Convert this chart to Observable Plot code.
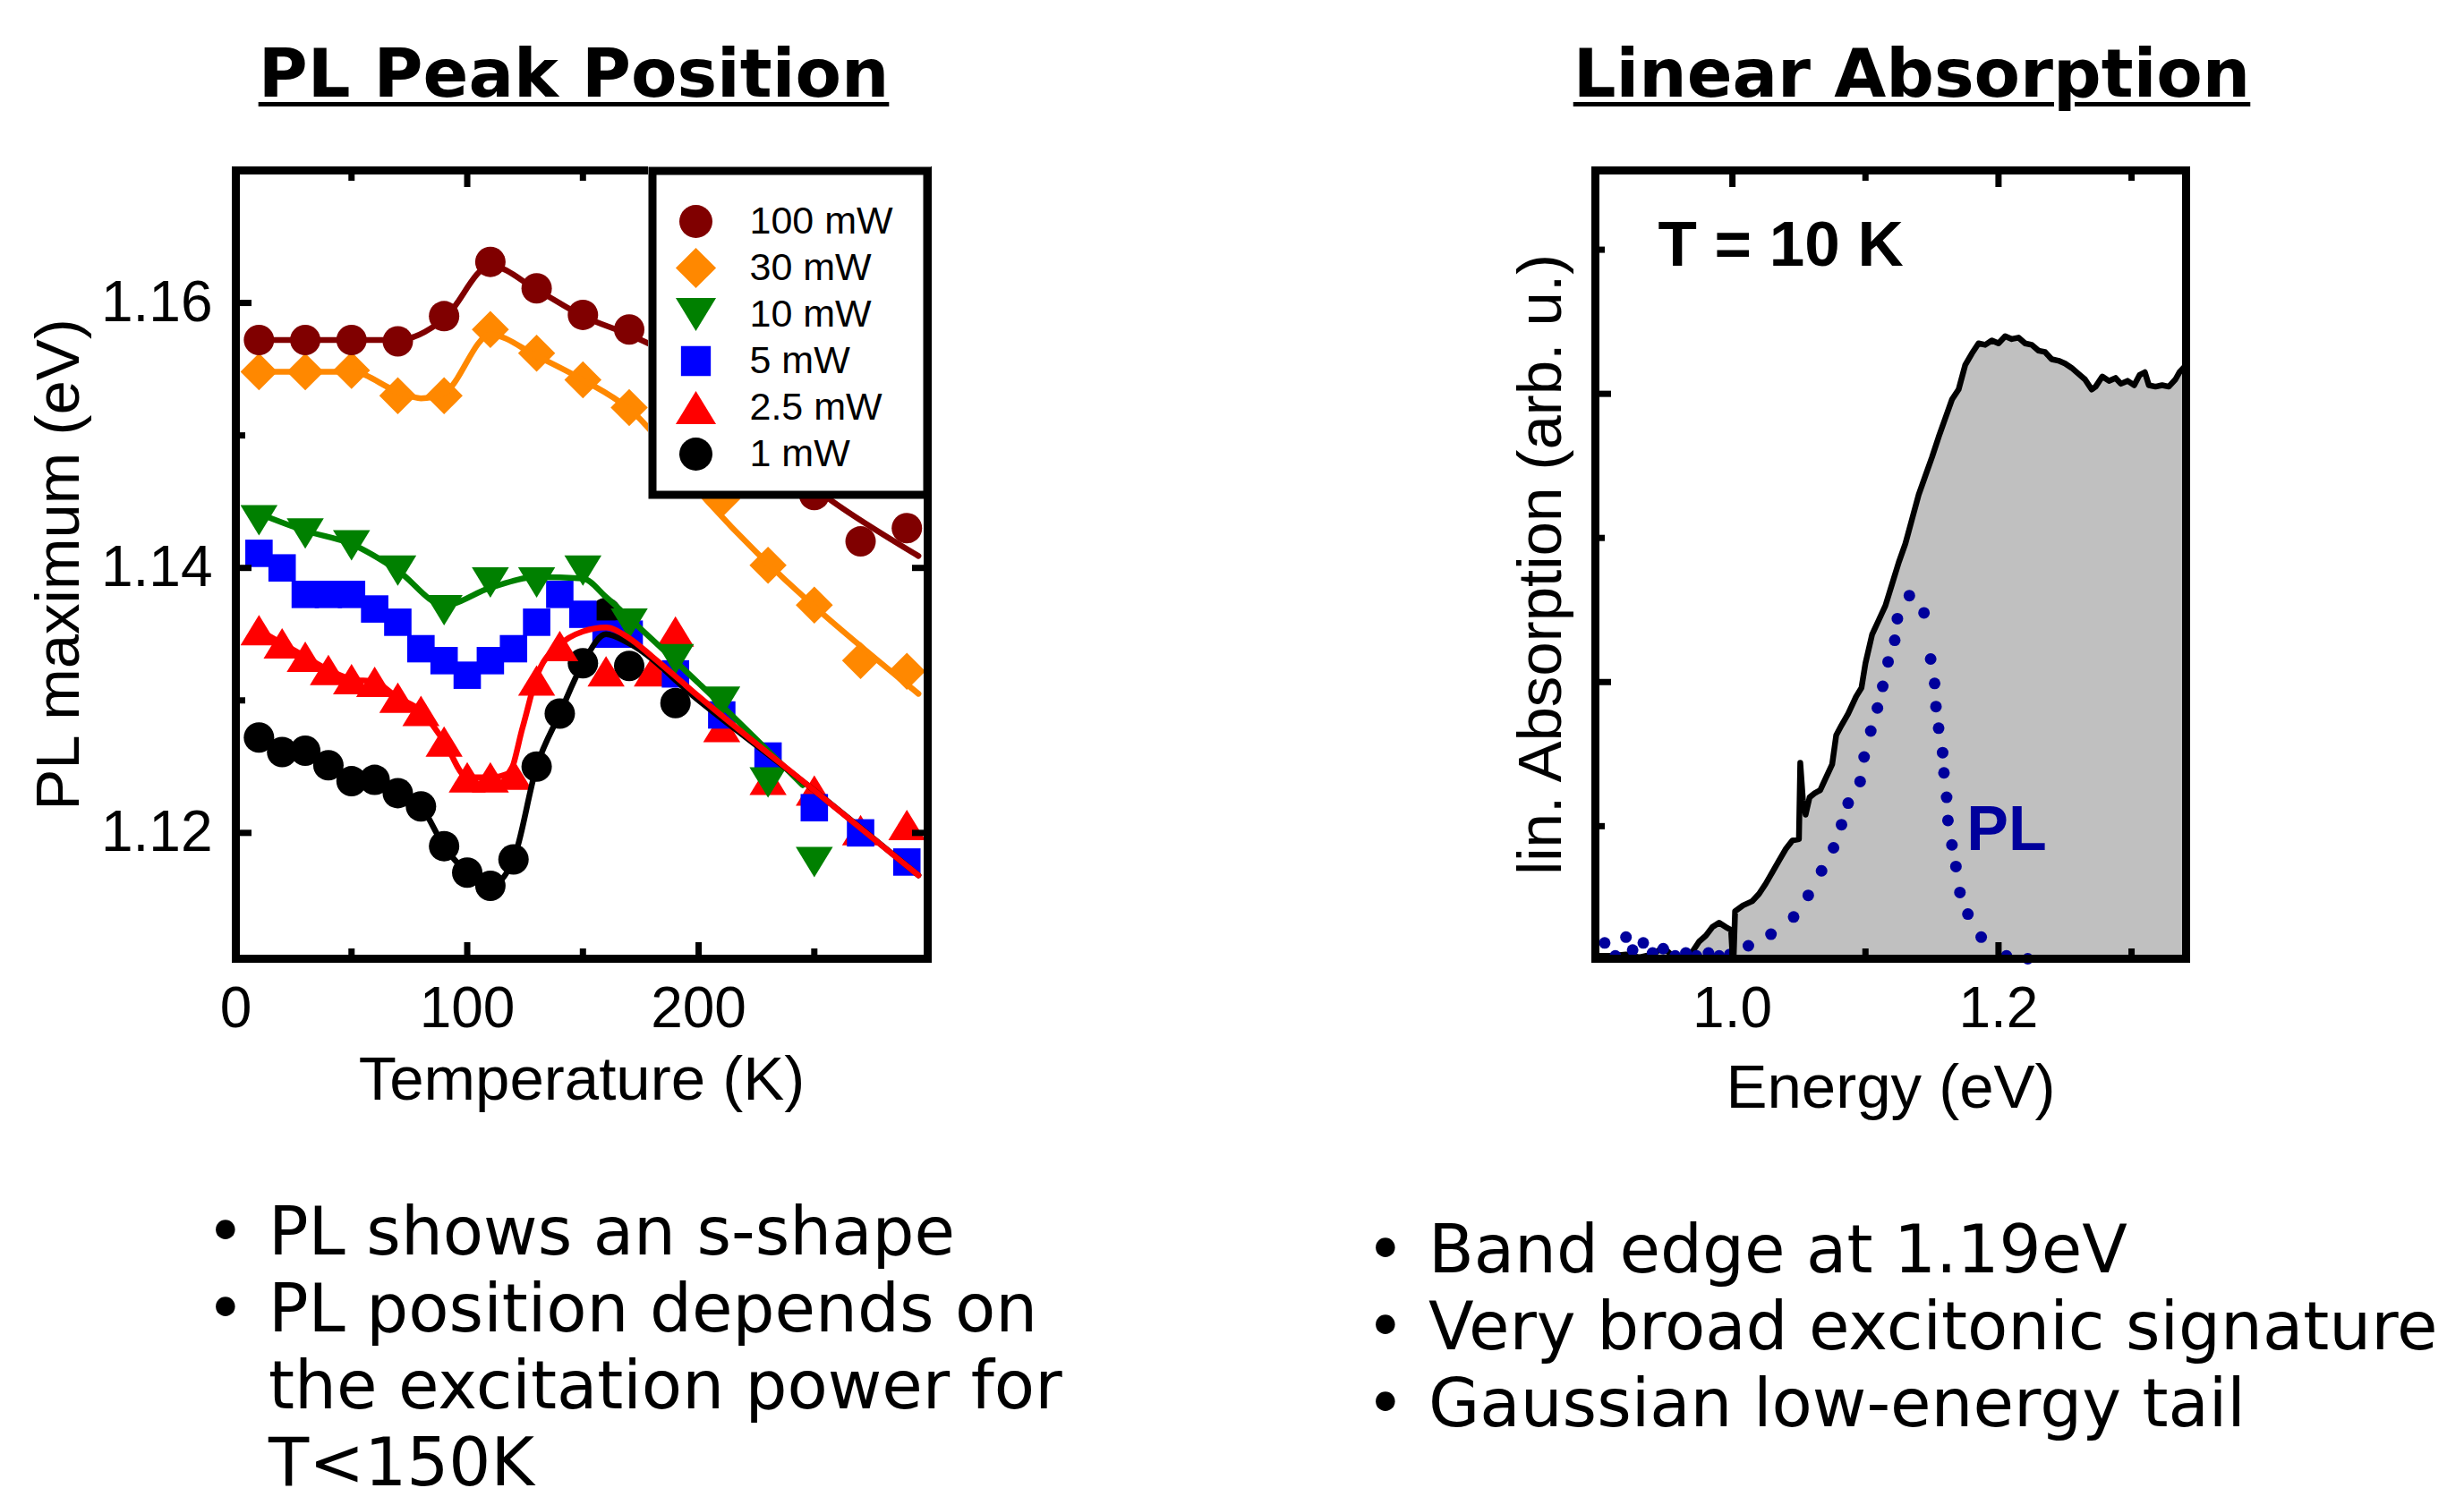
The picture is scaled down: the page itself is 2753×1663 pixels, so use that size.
<!DOCTYPE html>
<html>
<head>
<meta charset="utf-8">
<script src="https://cdn.jsdelivr.net/npm/d3@7"></script>
<script src="https://cdn.jsdelivr.net/npm/@observablehq/plot@0.6"></script>
<style>
  html, body { margin: 0; padding: 0; background: #fff; }
  body { width: 2753px; height: 1663px; overflow: hidden; position: relative; font-family: "DejaVu Sans", sans-serif; color: #000; }
  .abs { position: absolute; }
  .title { font-family: "DejaVu Sans", sans-serif; font-weight: bold; font-size: 75px; line-height: 75px; text-align: center; width: 1000px;
           text-decoration: underline; text-decoration-thickness: 5px; text-underline-offset: 6px; white-space: nowrap; }
  .item { font-size: 74px; line-height: 86px; white-space: nowrap; }
  .bullet { position: absolute; left: 0; top: 0; }
</style>
</head>
<body>
<script>
// ---------------- PL peak position data (Temperature K, PL maximum eV) ----------------
const T_100mW = [10, 30, 50, 70, 90, 110, 130, 150, 170, 190, 210, 230, 250, 270, 290];
const E_100mW = [1.1572, 1.1572, 1.1572, 1.1571, 1.1590, 1.1631, 1.1611, 1.1591, 1.1580, 1.1555, 1.1520, 1.1490, 1.1455, 1.1420, 1.1430];

const T_30mW = [10, 30, 50, 70, 90, 110, 130, 150, 170, 190, 210, 230, 250, 270, 290];
const E_30mW = [1.1548, 1.1548, 1.1549, 1.1530, 1.1530, 1.1580, 1.1562, 1.1542, 1.1521, 1.1485, 1.1452, 1.1402, 1.1372, 1.1330, 1.1322];

const T_10mW = [10, 30, 50, 70, 90, 110, 130, 150, 170, 190, 210, 230, 250];
const E_10mW = [1.1436, 1.1426, 1.1417, 1.1398, 1.1368, 1.1389, 1.1389, 1.1398, 1.1358, 1.1331, 1.1299, 1.1238, 1.1178];

const T_5mW = [10, 20, 30, 40, 50, 60, 70, 80, 90, 100, 110, 120, 130, 140, 150, 160, 170, 190, 210, 230, 250, 270, 290];
const E_5mW = [1.1411, 1.1400, 1.1380, 1.1380, 1.1380, 1.1369, 1.1359, 1.1339, 1.1330, 1.1319, 1.1330, 1.1339, 1.1359, 1.1380, 1.1365, 1.1350, 1.1350, 1.1320, 1.1289, 1.1258, 1.1219, 1.1200, 1.1178];

const T_2p5mW = [10, 20, 30, 40, 50, 60, 70, 80, 90, 100, 110, 120, 130, 140, 160, 180, 190, 210, 230, 250, 270, 290];
const E_2p5mW = [1.1353, 1.1343, 1.1333, 1.1323, 1.1316, 1.1314, 1.1302, 1.1292, 1.1269, 1.1242, 1.1242, 1.1244, 1.1315, 1.1341, 1.1322, 1.1322, 1.1352, 1.1280, 1.1240, 1.1232, 1.1202, 1.1206];

const T_1mW = [10, 20, 30, 40, 50, 60, 70, 80, 90, 100, 110, 120, 130, 140, 150, 160, 170, 190];
const E_1mW = [1.1272, 1.1261, 1.1262, 1.1251, 1.1239, 1.1240, 1.1230, 1.1220, 1.1190, 1.1170, 1.1160, 1.1180, 1.1250, 1.1290, 1.1328, 1.1366, 1.1326, 1.1298];

// guide / fit curves drawn through the data
const fitT_100mW = [10, 70, 90, 110, 130, 150, 170, 180, 258, 295];
const fitE_100mW = [1.1572, 1.1572, 1.1588, 1.1628, 1.1610, 1.1590, 1.1576, 1.1568, 1.1450, 1.1409];
const fitT_30mW = [10, 50, 70, 80, 90, 110, 130, 150, 170, 204, 295];
const fitE_30mW = [1.1548, 1.1548, 1.1533, 1.1528, 1.1532, 1.1576, 1.1560, 1.1542, 1.1520, 1.1450, 1.1305];
const fitT_10mW = [10, 30, 50, 70, 90, 110, 130, 150, 160, 170, 200, 245];
const fitE_10mW = [1.1441, 1.1428, 1.1418, 1.1398, 1.1372, 1.1385, 1.1393, 1.1392, 1.1378, 1.1362, 1.1313, 1.1236];
const fitT_1mW = [10, 20, 30, 40, 50, 60, 70, 80, 90, 100, 110, 120, 130, 140, 150, 160, 170, 200, 250, 295];
const fitE_1mW = [1.1272, 1.1261, 1.1262, 1.1251, 1.1239, 1.1240, 1.1230, 1.1220, 1.1190, 1.1170, 1.1160, 1.1180, 1.1250, 1.1290, 1.1328, 1.1350, 1.1343, 1.1300, 1.1232, 1.1168];
const fitT_2p5mW = [10, 20, 30, 40, 50, 60, 70, 80, 90, 100, 110, 118, 124, 130, 140, 150, 160, 170, 180, 200, 250, 295];
const fitE_2p5mW = [1.1353, 1.1343, 1.1333, 1.1323, 1.1316, 1.1314, 1.1302, 1.1292, 1.1269, 1.1242, 1.1242, 1.1245, 1.1280, 1.1318, 1.1342, 1.1352, 1.1355, 1.1347, 1.1333, 1.1303, 1.1232, 1.1168];

const legendLabels = ["100 mW", "30 mW", "10 mW", "5 mW", "2.5 mW", "1 mW"];
const seriesColors = ["#800000", "#ff8800", "#008000", "#0000ff", "#ff0000", "#000000"];

const tempTicksMajor = [100, 200];
const tempTicksMinor = [50, 150, 250];
const tempTickLabels = [0, 100, 200];
const plTicksMajor = [1.12, 1.14, 1.16];
const plTicksMinor = [1.13, 1.15];

// ---------------- Linear absorption data (Energy eV, arb. u.) ----------------
const absE = [0.898, 0.910, 0.920, 0.930, 0.940, 0.948, 0.955, 0.965, 0.970, 0.975, 0.980, 0.985, 0.990, 0.995, 0.999, 1.000, 1.001, 1.002,
  1.008, 1.015, 1.020, 1.025, 1.030, 1.035, 1.040, 1.045, 1.050, 1.051, 1.053, 1.055, 1.058, 1.062, 1.066, 1.070, 1.075, 1.078, 1.082,
  1.087, 1.093, 1.097, 1.100, 1.105, 1.110, 1.115, 1.120, 1.125, 1.130, 1.135, 1.140, 1.145, 1.150, 1.155, 1.160, 1.165, 1.170, 1.175,
  1.180, 1.185, 1.190, 1.195, 1.200, 1.205, 1.210, 1.215, 1.220, 1.225, 1.230, 1.235, 1.240, 1.245, 1.250, 1.255, 1.260, 1.265, 1.270,
  1.273, 1.278, 1.283, 1.288, 1.292, 1.297, 1.302, 1.306, 1.310, 1.313, 1.318, 1.323, 1.328, 1.333, 1.336, 1.341];
const absA = [0.02, 0.02, 0.03, 0.01, 0.03, 0.08, 0.02, 0.01, 0.05, 0.12, 0.16, 0.22, 0.25, 0.22, 0.20, 0.03, 0.03, 0.33,
  0.37, 0.40, 0.45, 0.52, 0.60, 0.68, 0.76, 0.82, 0.83, 1.36, 1.10, 1.00, 1.12, 1.15, 1.17, 1.25, 1.35, 1.55, 1.62,
  1.70, 1.82, 1.88, 2.05, 2.25, 2.35, 2.45, 2.60, 2.75, 2.88, 3.05, 3.22, 3.35, 3.48, 3.62, 3.75, 3.88, 3.95, 4.12,
  4.20, 4.27, 4.26, 4.29, 4.27, 4.32, 4.30, 4.31, 4.27, 4.26, 4.22, 4.21, 4.16, 4.15, 4.13, 4.10, 4.06, 4.02, 3.95,
  3.97, 4.04, 4.01, 4.03, 3.99, 4.01, 3.98, 4.05, 4.07, 3.98, 3.97, 3.98, 3.97, 4.02, 4.07, 4.12];

const plE = [0.904, 0.912, 0.920, 0.925, 0.933, 0.940, 0.948, 0.957, 0.965, 0.973, 0.982, 0.990, 0.998,
  1.012, 1.029, 1.046, 1.057, 1.067, 1.076, 1.082, 1.087, 1.096, 1.099, 1.104, 1.109, 1.113, 1.117, 1.122, 1.124,
  1.133, 1.144, 1.149, 1.152, 1.153, 1.155, 1.158, 1.159, 1.161, 1.162, 1.165, 1.168, 1.171, 1.177, 1.187, 1.206, 1.222];
const plA = [0.11, 0.02, 0.15, 0.06, 0.11, 0.04, 0.07, 0.02, 0.04, 0.02, 0.04, 0.02, 0.03,
  0.09, 0.17, 0.29, 0.44, 0.61, 0.77, 0.93, 1.08, 1.23, 1.40, 1.58, 1.74, 1.89, 2.06, 2.21, 2.36,
  2.52, 2.40, 2.08, 1.91, 1.75, 1.60, 1.43, 1.29, 1.12, 0.96, 0.79, 0.64, 0.46, 0.31, 0.15, 0.02, 0.00];

const energyTicksMajor = [1.0, 1.2];
const energyTicksMinor = [1.1, 1.3];
const energyTickLabels = [1.0, 1.2];
const absTicksMajor = [1.92, 3.92];
const absTicksMinor = [0.92, 2.92, 4.92];

const plLabel = [{E: 1.176, A: 1.06, label: "PL"}];
const tempLabel = ["T = 10 K"];

// ---------------- helpers ----------------
const rows = (T, E) => T.map((t, i) => ({T: t, E: E[i]}));
const unit = (size) => Math.sqrt(size / Math.PI);
const symDiamond = {draw(c, size) { const s = unit(size) * 1.22; c.moveTo(0, -s); c.lineTo(s, 0); c.lineTo(0, s); c.lineTo(-s, 0); c.closePath(); }};
const symTriUp = {draw(c, size) { const s = unit(size); const w = 1.22 * s, h = 1.0 * s; c.moveTo(0, -h); c.lineTo(w, h); c.lineTo(-w, h); c.closePath(); }};
const symTriDown = {draw(c, size) { const s = unit(size); const w = 1.22 * s, h = 1.0 * s; c.moveTo(0, h); c.lineTo(w, -h); c.lineTo(-w, -h); c.closePath(); }};
const symSquare = {draw(c, size) { const s = unit(size) * 0.9; c.rect(-s, -s, 2 * s, 2 * s); }};
const seriesSymbols = ["circle", symDiamond, symTriDown, symSquare, symTriUp, "circle"];

const chartFont = "'Liberation Sans', Arial, Helvetica, sans-serif";
const TW = 7;
const tx = (anchor, ticks, len) => Plot.axisX({anchor, ticks, tickSize: -len, tickFormat: () => "", strokeWidth: TW, label: null});
const ty = (anchor, ticks, len) => Plot.axisY({anchor, ticks, tickSize: -len, tickFormat: () => "", strokeWidth: TW, label: null});

// ---------------- left chart ----------------
const pointSets = [
  rows(T_100mW, E_100mW), rows(T_30mW, E_30mW), rows(T_10mW, E_10mW),
  rows(T_5mW, E_5mW), rows(T_2p5mW, E_2p5mW), rows(T_1mW, E_1mW)
];
const drawOrder = [5, 4, 3, 2, 1, 0];
const markerMarks = drawOrder.map(i => Plot.dot(pointSets[i], {x: "T", y: "E", r: 17, symbol: seriesSymbols[i], fill: seriesColors[i], stroke: "none"}));
const fitSets = [
  [rows(fitT_100mW, fitE_100mW), seriesColors[0]],
  [rows(fitT_30mW, fitE_30mW), seriesColors[1]],
  [rows(fitT_10mW, fitE_10mW), seriesColors[2]],
  [rows(fitT_1mW, fitE_1mW), seriesColors[5]],
  [rows(fitT_2p5mW, fitE_2p5mW), seriesColors[4]]
];
const lineMarks = fitSets.map(([d, c]) => Plot.line(d, {x: "T", y: "E", stroke: c, strokeWidth: 6.5, curve: "monotone-x"}));

const leftChart = Plot.plot({
  width: 1100, height: 1100,
  marginLeft: 263, marginRight: 64, marginTop: 40, marginBottom: 179,
  x: {domain: [0, 299]},
  y: {domain: [1.1105, 1.170]},
  style: {fontFamily: chartFont, color: "black", background: "transparent", overflow: "visible"},
  marks: [
    ...markerMarks,
    ...lineMarks,
    tx("bottom", tempTicksMajor, 18), tx("bottom", tempTicksMinor, 11),
    tx("top", tempTicksMajor, 18), tx("top", tempTicksMinor, 11),
    ty("left", plTicksMajor, 18), ty("left", plTicksMinor, 11),
    ty("right", plTicksMajor, 18),
    Plot.axisX({anchor: "bottom", ticks: tempTickLabels, tickSize: 0, tickPadding: 31, fontSize: 64, label: null, tickFormat: d => String(d)}),
    Plot.axisY({anchor: "left", ticks: plTicksMajor, tickSize: 0, tickPadding: 26, fontSize: 64, label: null, tickFormat: d3.format(".2f")}),
    Plot.text(["Temperature (K)"], {text: d => d, frameAnchor: "bottom", dy: 135, textAnchor: "middle", lineAnchor: "middle", fontSize: 69}),
    Plot.text(["PL maximum (eV)"], {text: d => d, frameAnchor: "left", dx: -198, rotate: -90, textAnchor: "middle", lineAnchor: "middle", fontSize: 69}),
    Plot.frame({stroke: "black", strokeWidth: 9})
  ]
});

// legend (drawn as its own small Plot over the top-right corner of the chart)
const legendChart = Plot.plot({
  width: 316, height: 371,
  margin: 4.5,
  x: {domain: [0, 1], range: [53, 113], axis: null},
  y: {type: "point", domain: legendLabels, range: [60.5, 321.5], padding: 0, axis: null},
  style: {fontFamily: chartFont, color: "black", background: "white", overflow: "visible"},
  marks: [
    ...legendLabels.map((l, i) => Plot.dot([l], {x: 0, y: d => d, r: 18.5, symbol: seriesSymbols[i], fill: seriesColors[i], stroke: "none"})),
    Plot.text(legendLabels, {x: 1, y: d => d, text: d => d, textAnchor: "start", lineAnchor: "middle", fontSize: 43}),
    Plot.frame({stroke: "black", strokeWidth: 9})
  ]
});

// ---------------- right chart ----------------
const absRows = absE.map((e, i) => ({E: e, A: absA[i]}));
const plRows = plE.map((e, i) => ({E: e, A: plA[i]}));
const plColor = "#00009c";

const rightChart = Plot.plot({
  width: 900, height: 1100,
  marginLeft: 182, marginRight: 58, marginTop: 40, marginBottom: 179,
  x: {domain: [0.897, 1.341]},
  y: {domain: [0, 5.47]},
  style: {fontFamily: chartFont, color: "black", background: "transparent", overflow: "visible"},
  marks: [
    Plot.areaY(absRows, {x: "E", y: "A", fill: "#c0c0c0"}),
    Plot.line(absRows, {x: "E", y: "A", stroke: "black", strokeWidth: 6.5}),
    Plot.dot(plRows, {x: "E", y: "A", r: 6.5, fill: plColor, stroke: "none"}),
    Plot.text(plLabel, {x: "E", y: "A", text: "label", textAnchor: "start", lineAnchor: "top", fontSize: 70, fontWeight: "bold", fill: plColor}),
    Plot.text(tempLabel, {text: d => d, frameAnchor: "top-left", dx: 70, dy: 56, textAnchor: "start", lineAnchor: "top", fontSize: 71, fontWeight: "bold"}),
    tx("bottom", energyTicksMajor, 18), tx("bottom", energyTicksMinor, 11),
    tx("top", energyTicksMajor, 18), tx("top", energyTicksMinor, 11),
    ty("left", absTicksMajor, 18), ty("left", absTicksMinor, 11),
    Plot.axisX({anchor: "bottom", ticks: energyTickLabels, tickSize: 0, tickPadding: 31, fontSize: 64, label: null, tickFormat: d3.format(".1f")}),
    Plot.text(["Energy (eV)"], {text: d => d, frameAnchor: "bottom", dy: 144, textAnchor: "middle", lineAnchor: "middle", fontSize: 69}),
    Plot.text(["lin. Absorption (arb. u.)"], {text: d => d, frameAnchor: "left", dx: -61, rotate: -90, textAnchor: "middle", lineAnchor: "middle", fontSize: 69}),
    Plot.frame({stroke: "black", strokeWidth: 9})
  ]
});

function place(node, left, top) {
  const wrap = document.createElement("div");
  wrap.className = "abs";
  wrap.style.left = left + "px";
  wrap.style.top = top + "px";
  wrap.appendChild(node);
  document.body.appendChild(wrap);
  return wrap;
}
place(leftChart, 0, 150);
place(legendChart, 724, 185.5);
place(rightChart, 1600, 150);

// ---------------- titles and notes ----------------
function addDiv(cls, left, top, html) {
  const d = document.createElement("div");
  d.className = "abs " + cls;
  d.style.left = left + "px";
  d.style.top = top + "px";
  d.innerHTML = html;
  document.body.appendChild(d);
  return d;
}
addDiv("title", 141, 45, "PL Peak Position");
addDiv("title", 1636, 45, "Linear Absorption");

function addItem(bulletCenter, textLeft, top, html) {
  const d = addDiv("item", textLeft, top, html);
  const b = document.createElement("span");
  b.className = "bullet";
  b.textContent = "\u2022";
  b.style.left = (bulletCenter - 22 - textLeft) + "px";
  d.appendChild(b);
}
addItem(252, 300, 1333, "PL shows an s-shape");
addItem(252, 300, 1419, "PL position depends on<br>the excitation power for<br>T&lt;150K");
addItem(1548, 1596, 1353, "Band edge at 1.19eV");
addItem(1548, 1596, 1439, "Very broad excitonic signature");
addItem(1548, 1596, 1525, "Gaussian low-energy tail");
</script>
</body>
</html>
